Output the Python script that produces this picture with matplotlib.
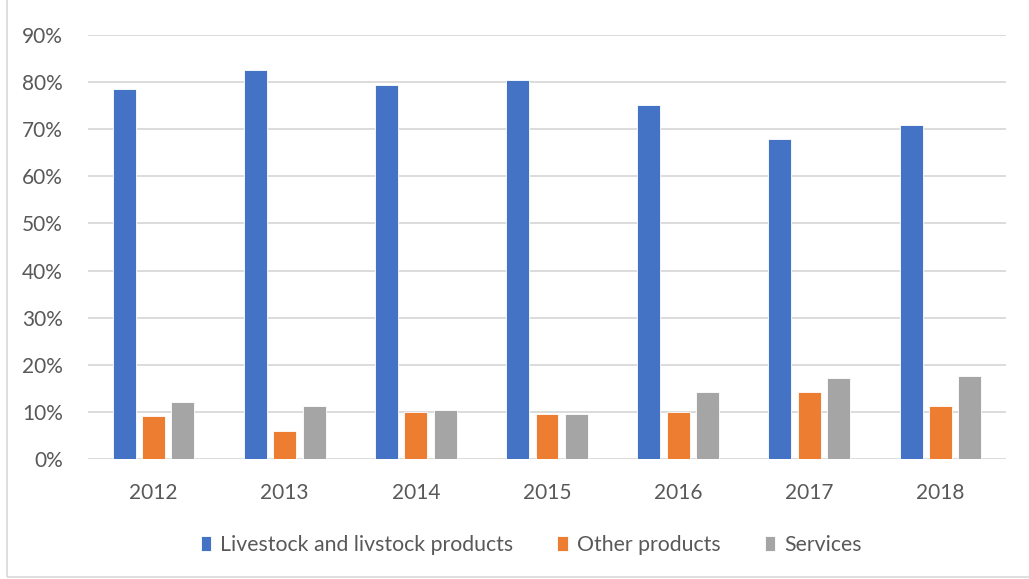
import matplotlib
matplotlib.use('Agg')
import matplotlib.pyplot as plt
from matplotlib.patches import Rectangle
from matplotlib.ticker import PercentFormatter
import numpy as np

# Values (in %)
years = ['2012', '2013', '2014', '2015', '2016', '2017', '2018']
livestock = [78.5, 82.6, 79.3, 80.4, 75.2, 67.9, 70.9]
other = [9.2, 5.9, 10.0, 9.5, 10.0, 14.3, 11.4]
services = [12.1, 11.4, 10.5, 9.7, 14.3, 17.3, 17.6]

series_names = ['Livestock and livstock products', 'Other products', 'Services']
colours = ['#4472C4', '#ED7D31', '#A5A5A5']

plt.rcParams['font.family'] = ['Lato', 'DejaVu Sans']
txt = '#595959'

fig = plt.figure(figsize=(10.29, 5.79), dpi=100)
ax = fig.add_axes([88/1029, 1 - 459.3/579, 918/1029, (459.3 - 34.7)/579])

x = np.arange(len(years))
w = 0.175
step = 0.224
for i, (vals, name, col) in enumerate(zip([livestock, other, services], series_names, colours)):
    ax.bar(x + (i - 1) * step, vals, width=w, color=col, label=name,
           edgecolor='white', linewidth=0.6, zorder=3)

ax.set_xlim(-0.5, len(years) - 0.5)
ax.set_ylim(0, 90)
ax.set_yticks(np.arange(0, 91, 10))
ax.yaxis.set_major_formatter(PercentFormatter(decimals=0))
ax.set_xticks(x)
ax.set_xticklabels(years)

ax.grid(axis='y', color='#D9D9D9', linewidth=1.3, zorder=0)
for s in ax.spines.values():
    s.set_visible(False)
ax.tick_params(axis='both', length=0, labelsize=15, colors=txt)
ax.tick_params(axis='x', pad=17)
ax.tick_params(axis='y', pad=18)

leg = fig.legend(loc='center', bbox_to_anchor=(531/1029, 1 - 545/579), ncol=3,
                 frameon=False, fontsize=15.3, handlelength=0.5, handleheight=0.65,
                 handletextpad=0.4, columnspacing=2.1)
for t in leg.get_texts():
    t.set_color(txt)

# chart-area border (partly cropped in the reference)
fig.patches.append(Rectangle((7/1029, 2/579), 1.2, 1.2, transform=fig.transFigure,
                             fill=False, edgecolor='#D9D9D9', linewidth=1.2))

fig.savefig('out.png', dpi=100)
